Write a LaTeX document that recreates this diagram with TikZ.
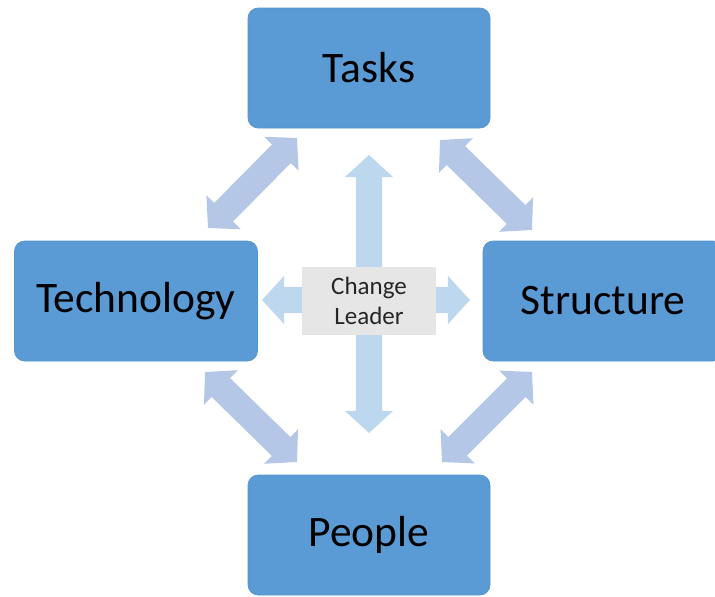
\documentclass[tikz,border=0pt]{standalone}
\usepackage{fontspec}
\setmainfont{Carlito}
\usetikzlibrary{shapes.arrows,calc}
\definecolor{boxblue}{HTML}{5B9BD5}
\definecolor{boxedge}{HTML}{5593CC}
\definecolor{diagblue}{HTML}{B4C7E7}
\definecolor{centblue}{HTML}{BDD7EE}
\definecolor{leadgray}{HTML}{E7E6E6}
\definecolor{leadtext}{HTML}{262626}
\tikzset{
  box/.style={rectangle, rounded corners=10pt, fill=boxblue, draw=boxedge,
    line width=0.6pt, minimum width=242pt, minimum height=120pt, inner sep=0pt,
    font=\fontsize{43.5}{52}\selectfont, text=black},
  leadbox/.style={rectangle, fill=leadgray, minimum width=134pt, minimum height=68pt,
    inner sep=0pt, align=center, font=\fontsize{25}{30}\selectfont, text=leadtext},
  darrow/.style={double arrow, inner xsep=0pt, inner ysep=13pt,
    double arrow head extend=11pt, double arrow tip angle=95, draw=none}
}
\newcommand{\fatlink}[3]{%
  \path let \p1=($(#3)-(#2)$), \n1={atan2(\y1,\x1)}, \n2={veclen(\x1,\y1)} in
    node[darrow, fill=#1, minimum height=\n2, rotate=\n1] at ($(#2)!0.5!(#3)$) {};}
\begin{document}
\begin{tikzpicture}[x=1pt, y=-1pt]
  \useasboundingbox (0,0) rectangle (715,597);
  \clip (0,0) rectangle (715,597);
  % boxes
  \node[box] (tasks) at (369,68) {Tasks};
  \node[box, minimum width=243pt] (tech) at (136,301) {Technology};
  \node[box, minimum width=240pt] (struct) at (603,301) {Structure};
  \node[box] (people) at (369,535) {People};
  % arrow end points
  \coordinate (tlA) at (297,138); \coordinate (tlB) at (208,228);
  \coordinate (trA) at (440,140); \coordinate (trB) at (532,230);
  \coordinate (blA) at (205,372); \coordinate (blB) at (297,462);
  \coordinate (brA) at (532,372); \coordinate (brB) at (442,462);
  \coordinate (vA) at (369,155);  \coordinate (vB) at (369,433);
  \coordinate (hA) at (262,300);  \coordinate (hB) at (470,300);
  % diagonal arrows
  \fatlink{diagblue}{tlB}{tlA}
  \fatlink{diagblue}{trA}{trB}
  \fatlink{diagblue}{blA}{blB}
  \fatlink{diagblue}{brB}{brA}
  % central arrows
  \fatlink{centblue}{vA}{vB}
  \fatlink{centblue}{hA}{hB}
  % centre box
  \node[leadbox] (lead) at (369,301) {Change\\Leader};
\end{tikzpicture}
\end{document}
